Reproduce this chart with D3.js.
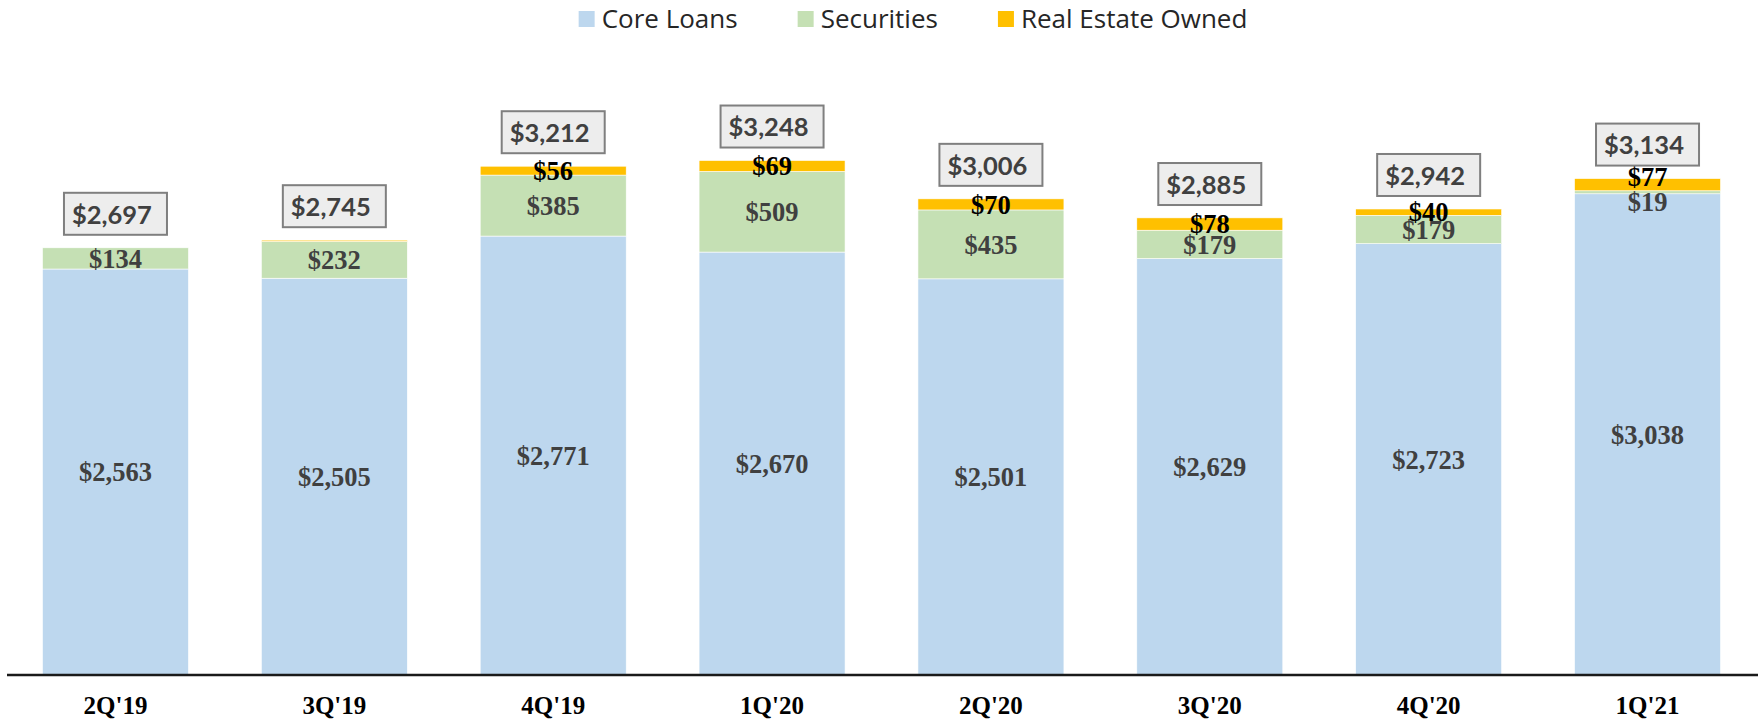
<!DOCTYPE html>
<html>
<head>
<meta charset="utf-8">
<script src="https://cdn.jsdelivr.net/npm/d3@7"></script>
<style>
  body { margin: 0; background: #fff; }
  svg { display: block; }
</style>
</head>
<body>
<div id="chart"></div>
<script>
const categories = ["2Q'19", "3Q'19", "4Q'19", "1Q'20", "2Q'20", "3Q'20", "4Q'20", "1Q'21"];
const coreLoans = [2563, 2505, 2771, 2670, 2501, 2629, 2723, 3038];
const securities = [134, 232, 385, 509, 435, 179, 179, 19];
const realEstateOwned = [0, 8, 56, 69, 70, 78, 40, 77];
const totals = [2697, 2745, 3212, 3248, 3006, 2885, 2942, 3134];

const seriesNames = ["Core Loans", "Securities", "Real Estate Owned"];
const seriesColors = ["#BDD7EE", "#C5E0B4", "#FFC000"];

const width = 1758, height = 721;
const baseY = 675;

const svg = d3.select("#chart").append("svg")
  .attr("width", width)
  .attr("height", height)
  .attr("viewBox", [0, 0, width, height]);

const x = d3.scaleBand()
  .domain(categories)
  .range([6, 1757])
  .paddingInner(0.333)
  .paddingOuter(0.1667);

const y = d3.scaleLinear()
  .domain([0, 4000])
  .range([baseY, baseY - 633.6]);

const rows = categories.map((c, i) => ({
  cat: c,
  "Core Loans": coreLoans[i],
  "Securities": securities[i],
  "Real Estate Owned": realEstateOwned[i],
  total: totals[i]
}));

const stack = d3.stack().keys(seriesNames)(rows);

// bars
svg.append("g").selectAll("g")
  .data(stack)
  .join("g")
    .attr("fill", (d, i) => seriesColors[i])
  .selectAll("rect")
  .data(d => d)
  .join("rect")
    .attr("x", d => x(d.data.cat))
    .attr("y", d => y(d[1]))
    .attr("width", x.bandwidth())
    .attr("height", d => y(d[0]) - y(d[1]))
    .attr("stroke", "#fff")
    .attr("stroke-width", 0.6);

// segment labels
const labelFont = "'Liberation Serif', 'Times New Roman', serif";
const lbl = svg.append("g")
  .attr("font-family", labelFont)
  .attr("font-weight", "bold")
  .attr("font-size", 26.5)
  .attr("text-anchor", "middle");

rows.forEach((r, i) => {
  const cx = x(r.cat) + x.bandwidth() / 2;
  const s0 = stack[0][i], s1 = stack[1][i], s2 = stack[2][i];
  // core loans
  lbl.append("text")
    .attr("x", cx)
    .attr("y", (y(s0[0]) + y(s0[1])) / 2)
    .attr("dy", "0.35em")
    .attr("fill", "#404040")
    .text(d3.format("$,")(r["Core Loans"]));

  const secH = y(s1[0]) - y(s1[1]);
  const tight = secH < 10;
  let secY = (y(s1[0]) + y(s1[1])) / 2;
  if (tight) secY = y(s1[0]) + 8;
  lbl.append("text")
    .attr("x", cx)
    .attr("y", secY)
    .attr("dy", "0.35em")
    .attr("fill", "#404040")
    .text(d3.format("$,")(r["Securities"]));

  if (r["Real Estate Owned"] >= 10) {
    let reoY = (y(s2[0]) + y(s2[1])) / 2;
    if (tight) reoY -= 8;
    lbl.append("text")
      .attr("x", cx)
      .attr("y", reoY)
      .attr("dy", "0.35em")
      .attr("fill", "#000")
      .text(d3.format("$,")(r["Real Estate Owned"]));
  }
});

// total boxes
const boxW = 103, boxH = 42;
const totalG = svg.append("g");
rows.forEach((r) => {
  const cx = x(r.cat) + x.bandwidth() / 2;
  const top = y(r.total);
  const bx = cx - boxW / 2, by = top - 13 - boxH;
  totalG.append("rect")
    .attr("x", bx)
    .attr("y", by)
    .attr("width", boxW)
    .attr("height", boxH)
    .attr("fill", "#EDEDED")
    .attr("stroke", "#7F7F7F")
    .attr("stroke-width", 2);
  totalG.append("text")
    .attr("x", bx + 8)
    .attr("y", by + boxH / 2 + 1)
    .attr("dy", "0.35em")
    .attr("font-family", "Lato, 'Open Sans', sans-serif")
    .attr("font-weight", "bold")
    .attr("font-size", 25.5)
    .attr("fill", "#404040")
    .text(d3.format("$,")(r.total));
});

// x axis
const xAxis = svg.append("g")
  .attr("transform", `translate(0,${baseY})`)
  .call(d3.axisBottom(x).tickSize(0).tickPadding(21));
xAxis.select(".domain")
  .attr("d", `M7,0H${width}`)
  .attr("stroke", "#1a1a1a")
  .attr("stroke-width", 2.5);
xAxis.selectAll("text")
  .attr("font-family", labelFont)
  .attr("font-weight", "bold")
  .attr("font-size", 25)
  .attr("fill", "#000");

// legend
const legend = svg.append("g").attr("font-family", "'Open Sans', sans-serif").attr("font-size", 26);
let lx = 0;
seriesNames.forEach((name, i) => {
  const g = legend.append("g");
  g.append("rect")
    .attr("x", 0).attr("y", -8)
    .attr("width", 16).attr("height", 16)
    .attr("fill", seriesColors[i]);
  const t = g.append("text")
    .attr("x", 23).attr("y", 0).attr("dy", "0.35em")
    .attr("fill", "#262626")
    .text(name);
  const w = 23 + t.node().getComputedTextLength();
  g.attr("transform", `translate(${lx},0)`);
  lx += w + 60;
});
const legendW = lx - 60;
legend.attr("transform", `translate(${913 - legendW / 2},19)`);
</script>
</body>
</html>
